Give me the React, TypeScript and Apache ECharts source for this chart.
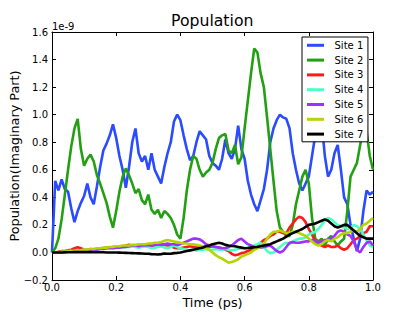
import React, { useEffect, useRef } from "react";
import * as echarts from "echarts";

const times = [
  0, 0.01, 0.02, 0.03, 0.04, 0.05, 0.06, 0.07, 0.08, 0.09,
  0.1, 0.11, 0.12, 0.13, 0.14, 0.15, 0.16, 0.17, 0.18, 0.19,
  0.2, 0.21, 0.22, 0.23, 0.24, 0.25, 0.26, 0.27, 0.28, 0.29,
  0.3, 0.31, 0.32, 0.33, 0.34, 0.35, 0.36, 0.37, 0.38, 0.39,
  0.4, 0.41, 0.42, 0.43, 0.44, 0.45, 0.46, 0.47, 0.48, 0.49,
  0.5, 0.51, 0.52, 0.53, 0.54, 0.55, 0.56, 0.57, 0.58, 0.59,
  0.6, 0.61, 0.62, 0.63, 0.64, 0.65, 0.66, 0.67, 0.68, 0.69,
  0.7, 0.71, 0.72, 0.73, 0.74, 0.75, 0.76, 0.77, 0.78, 0.79,
  0.8, 0.81, 0.82, 0.83, 0.84, 0.85, 0.86, 0.87, 0.88, 0.89,
  0.9, 0.91, 0.92, 0.93, 0.94, 0.95, 0.96, 0.97, 0.98, 0.99, 1.0,
];

const site1 = [
  0, 0.52, 0.45, 0.53, 0.46, 0.44, 0.32, 0.22, 0.3, 0.36,
  0.41, 0.5, 0.4, 0.35, 0.48, 0.62, 0.74, 0.79, 0.85, 0.93,
  0.83, 0.7, 0.6, 0.47, 0.62, 0.8, 0.9, 0.72, 0.66, 0.7,
  0.6, 0.72, 0.6, 0.55, 0.5, 0.62, 0.72, 0.8, 0.95, 1.0,
  0.96, 0.85, 0.75, 0.67, 0.7, 0.8, 0.88, 0.85, 0.82, 0.7,
  0.65, 0.63, 0.6, 0.68, 0.82, 0.72, 0.68, 0.75, 0.92, 0.75,
  0.68, 0.52, 0.42, 0.35, 0.3, 0.38, 0.46, 0.6, 0.8, 0.9,
  0.96, 1.0, 0.98, 0.97, 0.9, 0.72, 0.6, 0.5, 0.45, 0.5,
  0.55, 0.7, 0.85, 0.95, 0.95, 0.7, 0.55, 0.6, 0.72, 0.78,
  0.6, 0.4, 0.35, 0.2, 0.1, 0.01, 0.1, 0.3, 0.45, 0.42, 0.44,
];

const site2 = [
  0, 0.03, 0.1, 0.24, 0.42, 0.6, 0.77, 0.9, 0.97, 0.75,
  0.63, 0.68, 0.71, 0.66, 0.56, 0.5, 0.43, 0.36, 0.26, 0.18,
  0.3, 0.44, 0.55, 0.61, 0.56, 0.5, 0.43, 0.46, 0.38, 0.35,
  0.42, 0.31, 0.28, 0.31, 0.25, 0.3, 0.28, 0.25, 0.2, 0.13,
  0.1, 0.25, 0.45, 0.6, 0.7, 0.68, 0.6, 0.55, 0.58, 0.6,
  0.65, 0.75, 0.83, 0.85, 0.86, 0.74, 0.72, 0.78, 0.64, 0.69,
  0.9, 1.1, 1.3, 1.48, 1.45, 1.3, 1.2, 0.98, 0.75, 0.52,
  0.3, 0.18, 0.15, 0.12, 0.12, 0.2, 0.35, 0.45, 0.55, 0.6,
  0.5, 0.25, 0.1, 0.08, 0.1, 0.05, 0.1, 0.12, 0.08, 0.05,
  0.08, 0.1, 0.3, 0.55, 0.6, 0.65, 0.78, 0.9, 0.88, 0.7, 0.6,
];

const site3 = [
  0, 0, 0.005, 0.01, 0.01, 0.015, 0.02, 0.03, 0.037, 0.03,
  0.02, 0.02, 0.025, 0.02, 0.025, 0.03, 0.03, 0.035, 0.035, 0.04,
  0.04, 0.045, 0.04, 0.05, 0.055, 0.05, 0.045, 0.05, 0.055, 0.05,
  0.05, 0.045, 0.05, 0.055, 0.06, 0.055, 0.05, 0.045, 0.035, 0.03,
  0.03, 0.035, 0.04, 0.045, 0.04, 0.035, 0.04, 0.045, 0.04, 0.04,
  0.045, 0.04, 0.035, 0.03, 0.02, 0.01, -0.01, -0.02, -0.015, -0.005,
  0.0, 0.01, 0.02, 0.03, 0.05, 0.07, 0.09, 0.1, 0.12, 0.13,
  0.15, 0.15, 0.14, 0.14, 0.18, 0.21, 0.24, 0.26, 0.25, 0.22,
  0.17, 0.13, 0.08, 0.06, 0.05, 0.04, 0.05, 0.04, 0.04, 0.05,
  0.03, 0.02, 0.03, 0.06, 0.09, 0.1, 0.12, 0.14, 0.15, 0.19, 0.19,
];

const site4 = [
  0, 0, 0, 0.005, 0.005, 0.01, 0.01, 0.01, 0.015, 0.015,
  0.02, 0.02, 0.02, 0.025, 0.02, 0.025, 0.03, 0.03, 0.035, 0.03,
  0.035, 0.04, 0.035, 0.04, 0.04, 0.045, 0.04, 0.035, 0.04, 0.045,
  0.04, 0.03, 0.035, 0.04, 0.045, 0.035, 0.03, 0.04, 0.05, 0.04,
  0.03, 0.025, 0.02, 0.015, 0.02, 0.015, 0.02, 0.02, 0.025, 0.02,
  0.02, 0.025, 0.02, 0.02, 0.025, 0.02, 0.015, 0.02, 0.025, 0.03,
  0.03, 0.035, 0.04, 0.05, 0.06, 0.07, 0.04, 0.01, -0.005, 0.0,
  0.02, 0.04, 0.06, 0.07, 0.06, 0.08, 0.09, 0.1, 0.1, 0.11,
  0.13, 0.14, 0.15, 0.17, 0.2, 0.23, 0.25, 0.24, 0.22, 0.2,
  0.19, 0.18, 0.17, 0.18, 0.2, 0.19, 0.17, 0.13, 0.09, 0.05, 0.04,
];

const site5 = [
  0, 0, 0, 0, 0, 0.005, 0.005, 0.01, 0.01, 0.01,
  0.015, 0.015, 0.02, 0.02, 0.02, 0.025, 0.025, 0.03, 0.03, 0.03,
  0.035, 0.035, 0.04, 0.04, 0.045, 0.05, 0.05, 0.045, 0.05, 0.05,
  0.055, 0.05, 0.055, 0.06, 0.055, 0.06, 0.065, 0.06, 0.06, 0.055,
  0.06, 0.07, 0.08, 0.09, 0.1, 0.1, 0.095, 0.08, 0.06, 0.05,
  0.045, 0.04, 0.035, 0.03, 0.03, 0.04, 0.05, 0.07, 0.09, 0.1,
  0.08, 0.06, 0.05, 0.04, 0.04, 0.035, 0.04, 0.045, 0.05, 0.03,
  0.01, 0.0, 0.01, 0.04, 0.07, 0.075, 0.07, 0.07, 0.075, 0.08,
  0.08, 0.09, 0.08, 0.075, 0.08, 0.09, 0.09, 0.1, 0.12, 0.15,
  0.16, 0.15, 0.13, 0.12, 0.08, 0.02, 0.0, 0.04, 0.07, 0.08, 0.05,
];

const site6 = [
  0, 0, 0, 0.005, 0.005, 0.01, 0.01, 0.01, 0.015, 0.015,
  0.02, 0.02, 0.025, 0.025, 0.03, 0.03, 0.035, 0.035, 0.04, 0.04,
  0.045, 0.045, 0.05, 0.05, 0.05, 0.055, 0.055, 0.06, 0.06, 0.06,
  0.065, 0.065, 0.07, 0.07, 0.075, 0.085, 0.09, 0.085, 0.08, 0.075,
  0.07, 0.065, 0.065, 0.06, 0.06, 0.055, 0.05, 0.045, 0.03, 0.02,
  0.0, -0.02, -0.035, -0.045, -0.06, -0.075, -0.07, -0.06, -0.05, -0.03,
  -0.02, -0.01, 0.0, 0.02, 0.03, 0.04, 0.06, 0.1, 0.13, 0.15,
  0.15, 0.16, 0.15, 0.14, 0.14, 0.15, 0.15, 0.14, 0.13, 0.12,
  0.1, 0.08, 0.06, 0.05, 0.06, 0.08, 0.09, 0.08, 0.1, 0.11,
  0.13, 0.14, 0.14, 0.15, 0.16, 0.15, 0.17, 0.2, 0.21, 0.23, 0.25,
];

const site7 = [
  0, 0, 0, 0, 0.001, 0.001, 0.001, 0.002, 0.002, 0.002,
  0.002, 0.002, 0.002, 0.001, 0.001, 0.001, 0.001, 0.0, 0.0, 0.0,
  0.0, -0.001, -0.002, -0.003, -0.004, -0.005, -0.006, -0.007, -0.008, -0.009,
  -0.01, -0.012, -0.013, -0.015, -0.012, -0.008, -0.01, -0.01, -0.005, -0.003,
  0.0, 0.005, 0.01, 0.015, 0.02, 0.025, 0.03, 0.035, 0.045, 0.05,
  0.06, 0.065, 0.07, 0.065, 0.055, 0.05, 0.047, 0.045, 0.04, 0.035,
  0.03, 0.032, 0.035, 0.038, 0.04, 0.045, 0.05, 0.055, 0.06, 0.07,
  0.08, 0.09, 0.1, 0.115, 0.13, 0.14, 0.15, 0.16, 0.17, 0.185,
  0.2, 0.205, 0.21, 0.22, 0.23, 0.24, 0.23, 0.21, 0.19, 0.18,
  0.19, 0.2, 0.2, 0.18, 0.16, 0.14, 0.12, 0.11, 0.1, 0.1, 0.1,
];

const siteNames = ["Site 1", "Site 2", "Site 3", "Site 4", "Site 5", "Site 6", "Site 7"];
const siteValues = [site1, site2, site3, site4, site5, site6, site7];
const siteColors = ["#2a4bff", "#22a011", "#ff1a1a", "#4dffc3", "#a030ff", "#b5d400", "#000000"];

const FONT = "DejaVu Sans";

export default function App() {
  const ref = useRef<HTMLDivElement>(null);
  useEffect(() => {
    if (!ref.current) return;
    const chart = echarts.init(ref.current, null, { renderer: "svg" });
    const fmt = (v: number) => {
      const s = Math.abs(v).toFixed(1);
      return v < -1e-9 ? "\u2212" + s : s;
    };
    const axisCommon = {
      type: "value" as const,
      axisLine: { show: true, onZero: false, lineStyle: { color: "#000", width: 1 } },
      axisTick: { show: true, inside: true, length: 4, lineStyle: { color: "#000", width: 1 } },
      splitLine: { show: false },
    };
    chart.setOption({
      animation: false,
      backgroundColor: "#fff",
      title: {
        text: "Population",
        left: 171,
        top: 12,
        padding: 0,
        textStyle: { fontFamily: FONT, fontSize: 15.7, fontWeight: "normal", color: "#000" },
      },
      legend: {
        data: siteNames,
        orient: "vertical",
        left: 302,
        top: 37,
        padding: [2.3, 4.7, 1.7, 5],
        icon: "rect",
        itemWidth: 17,
        itemHeight: 3,
        itemGap: 2.8,
        backgroundColor: "#fff",
        borderColor: "#000",
        borderWidth: 1,
        borderRadius: 0,
        textStyle: { fontFamily: FONT, fontSize: 10, lineHeight: 12, color: "#000", padding: [0, 0, 0, 5.5] },
      },
      grid: { left: 52, right: 42, top: 32, bottom: 32, containLabel: false, outerBoundsMode: "none" },
      xAxis: [
        {
          ...axisCommon,
          position: "bottom",
          min: 0,
          max: 1,
          interval: 0.2,
          name: "Time (ps)",
          nameLocation: "middle",
          nameGap: 16,
          nameMoveOverlap: false,
          nameTextStyle: { fontFamily: FONT, fontSize: 12.8, color: "#000", verticalAlign: "top" },
          axisLabel: { show: true, margin: 2, fontFamily: FONT, fontSize: 10, color: "#000", formatter: fmt },
        },
        {
          ...axisCommon,
          position: "top",
          min: 0,
          max: 1,
          interval: 0.2,
          axisLabel: { show: false },
        },
      ],
      yAxis: [
        {
          ...axisCommon,
          position: "left",
          min: -0.2,
          max: 1.6,
          interval: 0.2,
          name: "Population(Imaginary Part)",
          nameLocation: "middle",
          nameGap: 31,
          nameMoveOverlap: false,
          nameTextStyle: { fontFamily: FONT, fontSize: 12.8, color: "#000" },
          axisLabel: { show: true, margin: 4, fontFamily: FONT, fontSize: 10, color: "#000", formatter: fmt },
        },
        {
          ...axisCommon,
          position: "right",
          min: -0.2,
          max: 1.6,
          interval: 0.2,
          axisLabel: { show: false },
        },
      ],
      graphic: [
        {
          type: "text",
          left: 52,
          top: 21,
          style: { text: "1e-9", fontFamily: FONT, fontSize: 10, fill: "#000" },
        },
      ],
      series: siteNames.map((name, k) => ({
        name,
        type: "line",
        xAxisIndex: 0,
        yAxisIndex: 0,
        symbol: "none",
        showSymbol: false,
        data: times.map((t, i) => [t, siteValues[k][i]]),
        lineStyle: { color: siteColors[k], width: 2.6 },
        itemStyle: { color: siteColors[k] },
        emphasis: { disabled: true },
      })),
    });
    return () => chart.dispose();
  }, []);
  return (
    <div
      ref={ref}
      style={{ position: "fixed", left: 0, top: 0, width: 415, height: 312, background: "#fff" }}
    />
  );
}
